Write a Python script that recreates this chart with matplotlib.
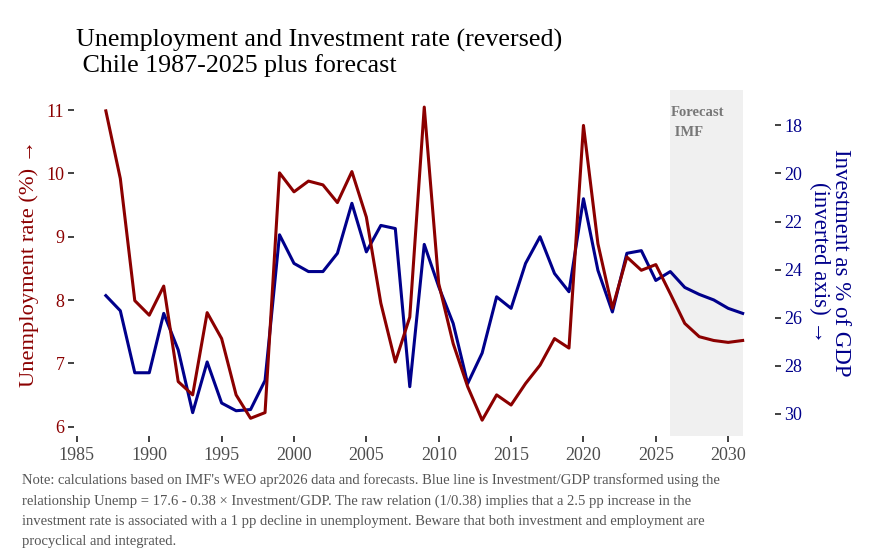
import matplotlib
matplotlib.use("Agg")
import matplotlib.pyplot as plt
import numpy as np

plt.rcParams['font.family'] = ['Liberation Serif', 'DejaVu Serif']

years = list(range(1987, 2032))
unemployment = [10.99, 9.92, 7.99, 7.76, 8.22, 6.71, 6.50, 7.80, 7.39, 6.50,
                6.13, 6.22, 10.01, 9.71, 9.88, 9.82, 9.54, 10.03, 9.31, 7.95,
                7.02, 7.73, 11.05, 8.26, 7.31, 6.63, 6.10, 6.50, 6.34, 6.68,
                6.97, 7.39, 7.24, 10.76, 8.89, 7.87, 8.68, 8.47, 8.56, 8.10,
                7.63, 7.42, 7.36, 7.33, 7.36]
investment = [25.08, 25.71, 28.29, 28.29, 25.82, 27.34, 29.95, 27.84, 29.55, 29.87,
              29.82, 28.61, 22.55, 23.74, 24.08, 24.08, 23.32, 21.24, 23.26, 22.16,
              22.29, 28.87, 22.95, 24.71, 26.24, 28.74, 27.47, 25.13, 25.61, 23.74,
              22.63, 24.16, 24.92, 21.05, 24.03, 25.76, 23.32, 23.21, 24.45, 24.08,
              24.74, 25.03, 25.26, 25.61, 25.82]
forecast_start, forecast_end = 2026, 2031
intercept, slope = 17.6, 0.38

x_ticks = [1985, 1990, 1995, 2000, 2005, 2010, 2015, 2020, 2025, 2030]
y_ticks = [6, 7, 8, 9, 10, 11]
inv_ticks = [18, 20, 22, 24, 26, 28, 30]

red = '#8B0000'
blue = '#00008B'

W, H = 877, 555
fig = plt.figure(figsize=(W / 100, H / 100), dpi=100)
ax = fig.add_axes([74 / W, 1 - 436 / H, (774.5 - 74) / W, (436 - 90) / H])

inv_as_unemp = [intercept - slope * v for v in investment]

ax.axvspan(forecast_start, forecast_end, color='#F0F0F0', zorder=0, lw=0)
ax.plot(years, inv_as_unemp, color=blue, lw=2.2, zorder=2)
ax.plot(years, unemployment, color=red, lw=2.2, zorder=3)

ax.set_xlim(1984.8, 2033.2)
ax.set_ylim(5.85, 11.32)
ax.set_xticks(x_ticks)
ax.set_yticks(y_ticks)
for s in ax.spines.values():
    s.set_visible(False)
ax.tick_params(axis='x', colors='#333333', labelcolor='#4d4d4d', labelsize=13,
               length=4, width=1.3, pad=4)
ax.tick_params(axis='y', colors='#333333', labelcolor=red, labelsize=13,
               length=4, width=1.3, pad=3)

sec = ax.secondary_yaxis('right', functions=(lambda u: (intercept - u) / slope,
                                             lambda i: intercept - slope * i))
sec.set_yticks(inv_ticks)
sec.spines['right'].set_visible(False)
sec.tick_params(axis='y', colors='#333333', labelcolor=blue, labelsize=13,
                length=4, width=1.3, pad=3)

ax.set_ylabel('Unemployment rate (%) \u2192', color=red, fontsize=16.2, labelpad=5)
fig.text(830 / W, 1 - 263 / H, 'Investment as % of GDP\n(inverted axis) \u2192',
         rotation=270, color=blue, fontsize=16.5, ha='center', va='center',
         multialignment='center', linespacing=0.95)

ax.text(2026.05, 10.81, 'Forecast\n IMF', color='#777777', fontsize=10.5,
        fontweight='bold', ha='left', va='center', linespacing=1.65)

fig.text(76 / W, 1 - 40 / H, 'Unemployment and Investment rate (reversed)',
         fontsize=18.7, ha='left', va='center', color='black')
fig.text(76 / W, 1 - 66 / H, ' Chile 1987-2025 plus forecast',
         fontsize=18.7, ha='left', va='center', color='black')

note = ("Note: calculations based on IMF's WEO apr2026 data and forecasts. Blue line is Investment/GDP transformed using the\n"
        "relationship Unemp = 17.6 - 0.38 \u00d7 Investment/GDP. The raw relation (1/0.38) implies that a 2.5 pp increase in the\n"
        "investment rate is associated with a 1 pp decline in unemployment. Beware that both investment and employment are\n"
        "procyclical and integrated.")
fig.text(22 / W, 1 - 473 / H, note, fontsize=10.5, color='#555555', ha='left', va='top',
         linespacing=1.72)

fig.savefig('out.png', dpi=100, facecolor='white')
